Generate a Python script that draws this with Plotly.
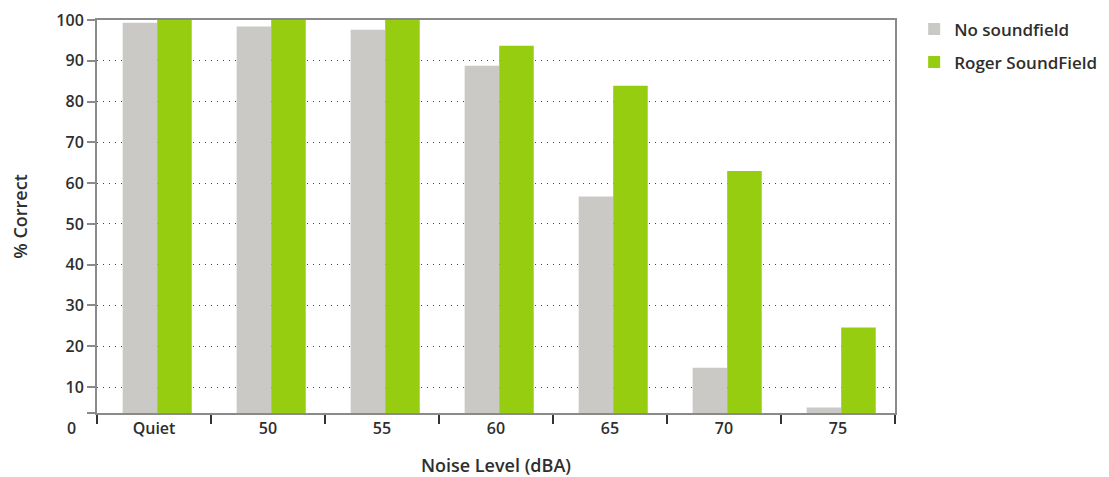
import plotly.graph_objects as go

categories = ["Quiet", "50", "55", "60", "65", "70", "75"]
no_soundfield = [99.3, 98.4, 97.6, 88.8, 56.7, 14.7, 5.0]
roger_soundfield = [100, 100, 100, 93.7, 83.9, 63.0, 24.6]
y_ticks = [10, 20, 30, 40, 50, 60, 70, 80, 90, 100]
y_min, y_max = 3.63, 100

GRAY = "#CAC9C5"
GREEN = "#96CD10"
AXIS = "#8A8A8A"
TEXT = "#2E2E2E"
FONT = "Open Sans"
BAR_W = 0.303
SHIFT = 0.028

fig = go.Figure()
fig.add_trace(go.Bar(x=categories, y=no_soundfield, name="No soundfield",
                     legendgroup="a", width=BAR_W, offset=-BAR_W + SHIFT,
                     marker=dict(color=GRAY, line=dict(width=0))))
fig.add_trace(go.Bar(x=categories, y=roger_soundfield, name="Roger SoundField",
                     legendgroup="b", width=BAR_W, offset=SHIFT,
                     marker=dict(color=GREEN, line=dict(width=0))))

fig.update_layout(
    width=1093, height=469,
    margin=dict(l=89, r=206, t=12, b=64, autoexpand=False),
    paper_bgcolor="white", plot_bgcolor="white",
    barmode="group", bargap=0.4, bargroupgap=0,
    font=dict(family=FONT, size=16, color=TEXT, weight=600),
    legend=dict(x=1.024, y=1.022, xanchor="left", yanchor="top",
                font=dict(size=17, weight=600, color=TEXT),
                tracegroupgap=8, itemwidth=30),
    showlegend=True,
)
fig.update_xaxes(
    type="category", automargin=False,
    showline=True, linecolor=AXIS, linewidth=2, mirror=True,
    ticks="outside", tickson="boundaries", ticklen=9, tickcolor="#333", tickwidth=1.5,
    showgrid=False,
    tickfont=dict(size=16, weight=600, color=TEXT),
    title=dict(text="Noise Level (dBA)", standoff=22,
               font=dict(size=18, weight=600, color=TEXT)),
)
fig.update_yaxes(
    range=[y_min, y_max], automargin=False,
    tickvals=[y_min] + y_ticks, ticktext=[""] + [str(v) for v in y_ticks],
    showline=True, linecolor=AXIS, linewidth=2, mirror=True,
    ticks="outside", ticklen=8, tickcolor=AXIS, tickwidth=1.5,
    showgrid=True, gridcolor="#444", gridwidth=1, griddash="1px,5px",
    zeroline=False,
    tickfont=dict(size=16, weight=600, color=TEXT),
    title=dict(text="% Correct", standoff=28,
               font=dict(size=18, weight=600, color=TEXT)),
)
zero_frac = (0 - y_min) / (y_max - y_min)
fig.add_annotation(text="0", xref="paper", yref="paper", x=0, y=zero_frac,
                   xanchor="right", yanchor="middle", xshift=-19, showarrow=False,
                   font=dict(size=16, weight=600, color=TEXT))

fig.write_html("out.html")
